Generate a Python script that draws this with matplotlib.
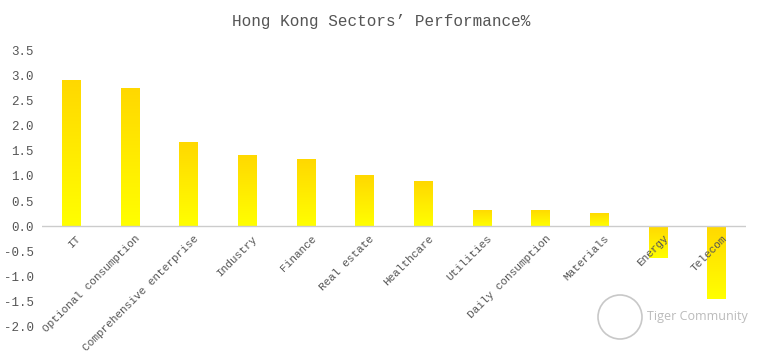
import numpy as np
import matplotlib.pyplot as plt
from matplotlib.patches import Circle
from matplotlib.colors import LinearSegmentedColormap

sectors = ["IT", "Optional consumption", "Comprehensive enterprise", "Industry",
           "Finance", "Real estate", "Healthcare", "Utilities",
           "Daily consumption", "Materials", "Energy", "Telecom"]
perf = [2.90, 2.74, 1.67, 1.41, 1.33, 1.01, 0.89, 0.32, 0.32, 0.26, -0.64, -1.45]
yticks = [-2.0, -1.5, -1.0, -0.5, 0.0, 0.5, 1.0, 1.5, 2.0, 2.5, 3.0, 3.5]

font = "Liberation Mono"
grey = "#555555"

fig = plt.figure(figsize=(7.62, 3.56), dpi=100)
ax = fig.add_axes([0.055, 0.0815, 0.924, 0.778])

x = np.arange(len(sectors))
bars = ax.bar(x, perf, width=0.32, color="none", edgecolor="none")

# vertical gradient: gold at top, yellow at bottom
grad = np.linspace(0, 1, 256).reshape(-1, 1)
cmap = LinearSegmentedColormap.from_list("gy", ["#FFD800", "#FFFF00"])
for b, v in zip(bars, perf):
    x0 = b.get_x()
    lo, hi = min(0, v), max(0, v)
    im = ax.imshow(grad, cmap=cmap, aspect="auto",
                   extent=[x0, x0 + b.get_width(), lo, hi], origin="upper",
                   zorder=2)
    im.set_clip_path(b)

ax.set_xlim(-0.5, len(sectors) - 0.5)
ax.set_ylim(-2.0, 3.5)
ax.axhline(0, color="#cccccc", lw=1, zorder=3)

for s in ax.spines.values():
    s.set_visible(False)
ax.set_xticks([])
ax.set_yticks(yticks)
ax.set_yticklabels([f"{t:.1f}" for t in yticks], fontsize=9, color=grey,
                   family=font)
ax.tick_params(axis="y", length=0, pad=6)

for xi, name in zip(x, sectors):
    ax.text(xi + 0.08, -0.14, name, rotation=45, ha="right", va="top",
            fontsize=8, color=grey, family=font, rotation_mode="anchor")

fig.text(0.5, 0.94, "Hong Kong Sectors\u2019 Performance%", ha="center",
         va="center", fontsize=11.5, color=grey, family=font)

# watermark
fig.patches.append(Circle((6.2, 0.39), 0.22, transform=fig.dpi_scale_trans,
                          fill=False, edgecolor="#c8c8c8", lw=1.2,
                          figure=fig))
fig.text(0.849, 0.11, "Tiger Community", ha="left", va="center",
         fontsize=9, color="#bbbbbb", family="Open Sans")

fig.savefig("out.png", dpi=100)
